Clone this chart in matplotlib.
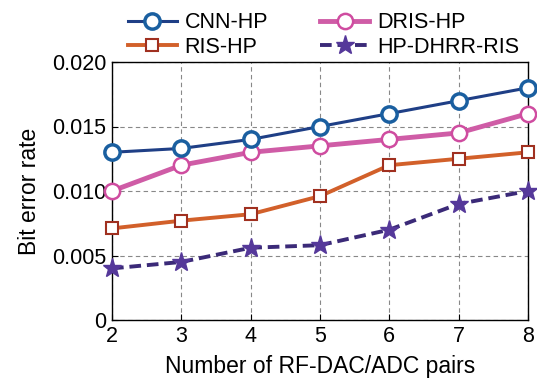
import matplotlib
matplotlib.use('Agg')
import matplotlib.pyplot as plt

# Dữ liệu
pairs = [2, 3, 4, 5, 6, 7, 8]
cnn_hp = [0.0130, 0.0133, 0.0140, 0.0150, 0.0160, 0.0170, 0.0180]
dris_hp = [0.0100, 0.0120, 0.0130, 0.0135, 0.0140, 0.0145, 0.0160]
ris_hp = [0.0071, 0.0077, 0.0082, 0.0096, 0.0120, 0.0125, 0.0130]
hp_dhrr_ris = [0.0040, 0.0045, 0.0056, 0.0058, 0.0070, 0.0090, 0.0100]
yticks = [0, 0.005, 0.010, 0.015, 0.020]
ytick_labels = ['0', '0.005', '0.010', '0.015', '0.020']

plt.rcParams['font.family'] = ['Liberation Sans', 'DejaVu Sans']

fig = plt.figure(figsize=(5.37, 3.81), dpi=100)
ax = fig.add_axes([112 / 537, 1 - 320 / 381, 416 / 537, 258 / 381])

ax.plot(pairs, cnn_hp, color='#1f3f86', lw=2.2, marker='o', ms=11,
        mfc='white', mec='#1a5fa0', mew=2.5, label='CNN-HP', zorder=4, clip_on=False)
ax.plot(pairs, ris_hp, color='#d2602a', lw=2.8, marker='s', ms=9,
        mfc='white', mec='#a03020', mew=1.5, label='RIS-HP', zorder=3, clip_on=False)
ax.plot(pairs, dris_hp, color='#cf5ca6', lw=3.5, marker='o', ms=11,
        mfc='white', mec='#cf4ca0', mew=1.8, label='DRIS-HP', zorder=3, clip_on=False)
ax.plot(pairs, hp_dhrr_ris, color='#3b2a78', lw=2.8, ls=(0, (3, 1.5)), marker='*', ms=14,
        mfc='#55389a', mec='#55389a', label='HP-DHRR-RIS', zorder=3, clip_on=False)

ax.set_xlim(2, 8)
ax.set_ylim(0, 0.020)
ax.set_yticks(yticks)
ax.set_yticklabels(ytick_labels)
ax.set_xticks(pairs)
ax.tick_params(direction='in', labelsize=15.5, length=4, pad=4)
ax.grid(True, ls=(0, (4, 3)), color='#888888', lw=0.8)
ax.set_axisbelow(True)
for s in ax.spines.values():
    s.set_linewidth(1.0)

ax.set_xlabel('Number of RF-DAC/ADC pairs', fontsize=16.5, labelpad=6)
ax.set_ylabel('Bit error rate', fontsize=16.5, labelpad=8)

handles, labels = ax.get_legend_handles_labels()
fig.legend(handles, labels, ncol=2, loc='upper left', bbox_to_anchor=(119 / 537, 0.99),
           frameon=False, fontsize=15.5, handlelength=2.3, handletextpad=0.35,
           columnspacing=2.4, labelspacing=0.15, borderaxespad=0)

fig.savefig('out.png', dpi=100)
